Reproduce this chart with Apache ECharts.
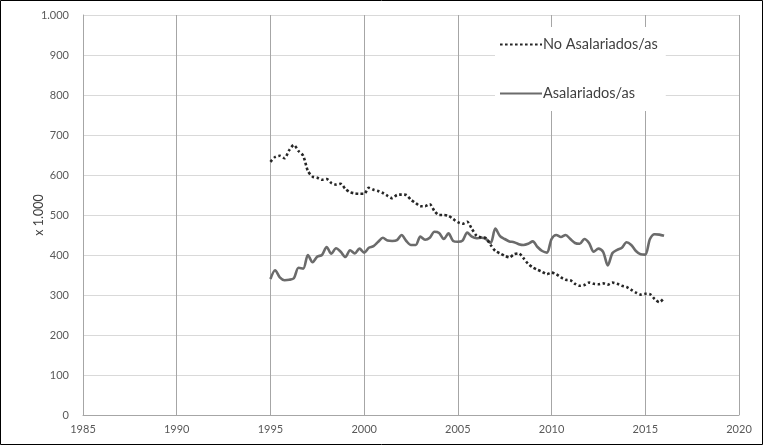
<!DOCTYPE html>
<html>
<head>
<meta charset="utf-8">
<script src="https://cdn.jsdelivr.net/npm/echarts@6/dist/echarts.min.js"></script>
<style>
html,body{margin:0;padding:0;background:#fff;}
#c{width:763px;height:445px;}
</style>
</head>
<body>
<div id="c"></div>
<script>
// Quarterly series, first quarter of 1995 to first quarter of 2016
const startYear = 1995;
const stepYears = 0.25;
const xTicks = [1985, 1990, 1995, 2000, 2005, 2010, 2015, 2020];
const yTicks = [0, 100, 200, 300, 400, 500, 600, 700, 800, 900, 1000];
const seriesNames = ['No Asalariados/as', 'Asalariados/as'];

const noAsalariados = [
  633, 645, 648, 642,
  662, 675, 660, 648,
  610, 596, 593, 588,
  590, 580, 576, 578,
  565, 557, 554, 553,
  553, 568, 563, 560,
  555, 548, 542, 550,
  551, 550, 538, 530,
  522, 522, 527, 510,
  500, 500, 498, 490,
  482, 478, 483, 465,
  448, 444, 442, 425,
  410, 404, 398, 394,
  402, 404, 392, 378,
  369, 363, 358, 352,
  356, 352, 344, 338,
  337, 328, 323, 325,
  331, 328, 327, 329,
  326, 331, 328, 323,
  320, 313, 306, 301,
  303, 302, 290, 282,
  292
];

const asalariados = [
  340, 362, 344, 337,
  338, 342, 368, 366,
  400, 382, 396, 400,
  420, 403, 417, 408,
  395, 412, 404, 416,
  406, 418, 422, 433,
  443, 436, 435, 437,
  450, 435, 425, 425,
  446, 438, 443, 458,
  455, 440, 454, 435,
  433, 436, 456, 446,
  442, 443, 440, 430,
  466, 447, 440, 434,
  432, 427, 425, 428,
  434, 420, 410, 406,
  440, 450, 445, 450,
  440, 430, 428, 440,
  430, 408, 416, 408,
  374, 405, 413, 418,
  432, 425, 410, 402,
  401, 440, 452, 451,
  448
];

function toPairs(arr){ return arr.map((v,i)=>[startYear + i*stepYears, v]); }

const FONT = 'Lato, "Liberation Sans", sans-serif';
const chart = echarts.init(document.getElementById('c'), null, {renderer:'canvas'});
chart.setOption({
  animation:false,
  backgroundColor:'#fff',
  textStyle:{fontFamily:FONT},
  grid:{left:83, right:24, top:15, bottom:30, containLabel:false},
  legend:{
    orient:'vertical',
    left:495, top:27,
    itemWidth:42, itemHeight:3,
    itemGap:34,
    padding:[10,8,10,4],
    backgroundColor:'#fff',
    itemStyle:{opacity:0},
    textStyle:{fontFamily:FONT, fontSize:14.5, color:'#404040', padding:[0,0,0,-4]},
    data:[
      {name:seriesNames[0]},
      {name:seriesNames[1]}
    ]
  },
  xAxis:{
    type:'value', min:xTicks[0], max:xTicks[xTicks.length-1], interval:5,
    axisLine:{show:true, lineStyle:{color:'#a6a6a6', width:1}},
    axisTick:{show:false},
    axisLabel:{color:'#595959', fontSize:11, fontFamily:FONT, margin:9, formatter:v=>String(v)},
    splitLine:{show:true, lineStyle:{color:'#a6a6a6', width:1}}
  },
  yAxis:{
    type:'value', min:yTicks[0], max:yTicks[yTicks.length-1], interval:100,
    name:'x 1.000', nameLocation:'middle', nameGap:38, nameRotate:90,
    nameMoveOverlap:false,
    nameTextStyle:{color:'#404040', fontSize:12.5, fontFamily:FONT},
    axisLine:{show:true, lineStyle:{color:'#a6a6a6', width:1}},
    axisTick:{show:false},
    axisLabel:{color:'#595959', fontSize:11, fontFamily:FONT, margin:14,
      formatter:v=> v>=1000 ? Math.floor(v/1000)+'.'+String(v%1000).padStart(3,'0') : String(v)},
    splitLine:{show:true, lineStyle:{color:'#d9d9d9', width:1}}
  },
  series:[
    {
      name:seriesNames[0], type:'line', data:toPairs(noAsalariados),
      showSymbol:false, symbol:'none', smooth:0.25,
      lineStyle:{color:'#262626', width:2.6, type:[2.6,2.4], cap:'butt'},
      itemStyle:{color:'#262626'},
      z:3
    },
    {
      name:seriesNames[1], type:'line', data:toPairs(asalariados),
      showSymbol:false, symbol:'none', smooth:0.3,
      lineStyle:{color:'#6b6b6b', width:2.6, type:'solid'},
      itemStyle:{color:'#6b6b6b'},
      z:2
    }
  ],
  graphic:[{
    type:'rect', silent:true, z:100,
    shape:{x:0.5, y:0.5, width:762, height:444},
    style:{fill:'none', stroke:'#000', lineWidth:1}
  }]
});
</script>
</body>
</html>
